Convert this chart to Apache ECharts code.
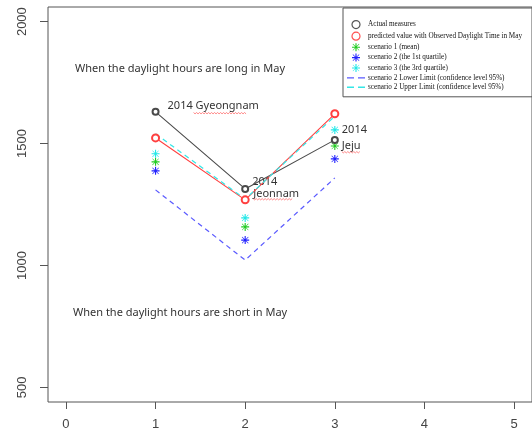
<!DOCTYPE html>
<html>
<head>
<meta charset="utf-8">
<script src="https://cdn.jsdelivr.net/npm/echarts@6/dist/echarts.min.js"></script>
<style>
  body { margin: 0; background: #fff; }
  #chart { width: 532px; height: 434px; }
</style>
</head>
<body>
<div id="chart"></div>
<script>
// data
const xCats = [1, 2, 3];
const actual = [1630, 1314, 1515];
const predicted = [1523, 1269, 1622];
const scenMean = [1425, 1158, 1490];
const scenQ1 = [1388, 1104, 1437];
const scenQ3 = [1458, 1195, 1556];
const lowerLimit = [1310, 1022, 1359];
const upperLimit = [1540, 1272, 1612];
const xTicks = [0, 1, 2, 3, 4, 5];
const yTicks = [500, 1000, 1500, 2000];

const names = [
  'Actual measures',
  'predicted value with Observed Daylight Time in May',
  'scenario 1 (mean)',
  'scenario 2 (the 1st quartile)',
  'scenario 3 (the 3rd quartile)',
  'scenario 2 Lower Limit (confidence level 95%)',
  'scenario 2 Upper Limit (confidence level 95%)'
];

// asterisk (pch 8) as filled bars
const star = 'path://M4.3,0L5.7,0L5.7,10L4.3,10Z M0,4.3L10,4.3L10,5.7L0,5.7Z M0.8,1.3L1.3,0.8L9.2,8.7L8.7,9.2Z M8.7,0.8L9.2,1.3L1.3,9.2L0.8,8.7Z';
// dashes for the legend
const dashes = 'path://M0,0L7,0L7,1.4L0,1.4Z M11,0L18,0L18,1.4L11,1.4Z';

const pairs = (vals) => vals.map((v, i) => [xCats[i], v]);

const chart = echarts.init(document.getElementById('chart'));

const axisColor = '#555';
const font = 'Liberation Sans, Arial, sans-serif';

chart.setOption({
  animation: false,
  grid: {
    left: 48, top: 7, width: 486, height: 395,
    show: true, borderColor: axisColor, borderWidth: 1
  },
  legend: {
    orient: 'vertical',
    left: 343, top: 8,
    padding: [12, 30, 6, 4],
    itemWidth: 18, itemHeight: 8, itemGap: 2.4,
    borderColor: axisColor, borderWidth: 1,
    textStyle: { fontFamily: 'Liberation Serif, serif', fontSize: 7.2, color: '#111', padding: [0, 0, 0, -2] },
    data: [
      { name: names[0], icon: 'circle', itemStyle: { color: '#fff', borderColor: '#555', borderWidth: 1.2 } },
      { name: names[1], icon: 'circle', itemStyle: { color: '#fff', borderColor: '#ff5050', borderWidth: 1.2 } },
      names[2], names[3], names[4],
      { name: names[5], icon: dashes, itemStyle: { color: '#5a5aff', borderWidth: 0 } },
      { name: names[6], icon: dashes, itemStyle: { color: '#33e6e6', borderWidth: 0 } }
    ]
  },
  xAxis: {
    type: 'value', min: -0.2, max: 5.2,
    splitLine: { show: false },
    axisLine: { show: false, onZero: false },
    axisTick: { show: true, length: 7, lineStyle: { color: axisColor }, customValues: xTicks },
    axisLabel: { customValues: xTicks, margin: 16, fontFamily: font, fontSize: 13, color: '#444' }
  },
  yAxis: {
    type: 'value', min: 440, max: 2060,
    splitLine: { show: false },
    axisLine: { show: false, onZero: false },
    axisTick: { show: true, length: 8, lineStyle: { color: axisColor }, customValues: yTicks },
    axisLabel: {
      customValues: yTicks, rotate: 90, margin: 19, fontFamily: font, fontSize: 13, color: '#444',
      formatter: (v) => String(v)
    }
  },
  series: [
    {
      name: names[0], type: 'line', data: pairs(actual),
      symbol: 'emptyCircle', symbolSize: 6,
      lineStyle: { color: '#4a4a4a', width: 1.1 },
      itemStyle: { color: '#4a4a4a', borderColor: '#4a4a4a', borderWidth: 1 }
    },
    {
      name: names[1], type: 'line', data: pairs(predicted),
      symbol: 'emptyCircle', symbolSize: 7,
      lineStyle: { color: '#ff4040', width: 1.1 },
      itemStyle: { color: '#ff4040', borderColor: '#ff4040', borderWidth: 1 }
    },
    {
      name: names[2], type: 'scatter', data: pairs(scenMean),
      symbol: star, symbolSize: 8, itemStyle: { color: '#22cc22', opacity: 1 }
    },
    {
      name: names[3], type: 'scatter', data: pairs(scenQ1),
      symbol: star, symbolSize: 8, itemStyle: { color: '#2222ff', opacity: 1 }
    },
    {
      name: names[4], type: 'scatter', data: pairs(scenQ3),
      symbol: star, symbolSize: 8, itemStyle: { color: '#22e8e8', opacity: 1 }
    },
    {
      name: names[5], type: 'line', data: pairs(lowerLimit),
      symbol: 'none', itemStyle: { color: '#5a5aff' },
      lineStyle: { color: '#5a5aff', width: 1.2, type: [5, 4] }
    },
    {
      name: names[6], type: 'line', data: pairs(upperLimit),
      symbol: 'none', itemStyle: { color: '#33e6e6' },
      lineStyle: { color: '#33e6e6', width: 1.2, type: [5, 4] }
    }
  ]
});

// annotations anchored to the actual-measure points
const px = (i) => chart.convertToPixel({ gridIndex: 0 }, [xCats[i], actual[i]]);
const noteFont = { fontFamily: 'Noto Sans, sans-serif', fontSize: 11, fill: '#333' };

const squiggle = (x0, x1, y) => {
  const pts = [];
  for (let x = x0, k = 0; x <= x1; x += 1.5, k++) pts.push([x, y + (k % 2 ? 1 : -0.3)]);
  return { type: 'polyline', silent: true, shape: { points: pts }, style: { stroke: '#ff6a6a', lineWidth: 0.8, fill: null } };
};

const text = (x, y, s) => ({
  type: 'text', silent: true, x: x, y: y,
  style: Object.assign({ text: s, verticalAlign: 'middle' }, noteFont)
});

const p0 = px(0), p1 = px(1), p2 = px(2);
chart.setOption({
  graphic: [
    text(75, 69, 'When the daylight hours are long in May'),
    text(73, 313, 'When the daylight hours are short in May'),
    text(p0[0] + 12, p0[1] - 6, '2014 Gyeongnam'),
    squiggle(p0[0] + 38, p0[0] + 91, p0[1] + 1),
    text(p1[0] + 7, p1[1] - 7, '2014'),
    text(p1[0] + 8, p1[1] + 5, 'Jeonnam'),
    squiggle(p1[0] + 8, p1[0] + 47, p1[1] + 10),
    text(p2[0] + 7, p2[1] - 10, '2014'),
    text(p2[0] + 7, p2[1] + 6, 'Jeju'),
    squiggle(p2[0] + 7, p2[0] + 26, p2[1] + 12)
  ]
});
</script>
</body>
</html>
